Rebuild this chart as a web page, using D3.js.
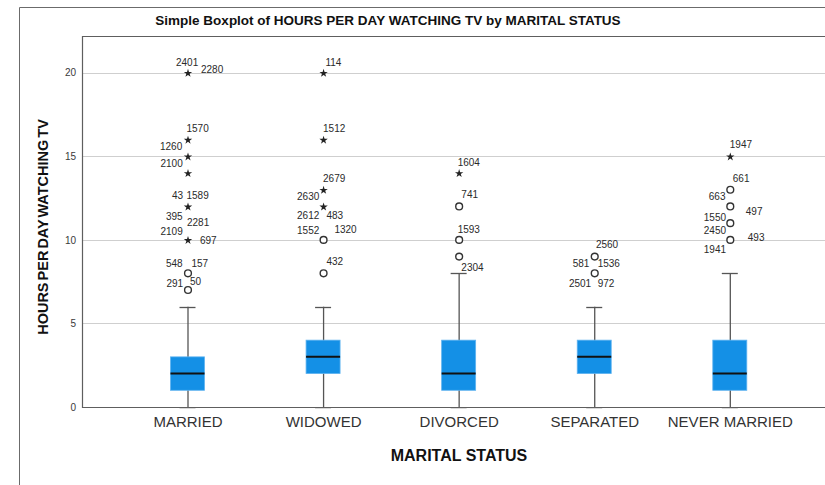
<!DOCTYPE html>
<html>
<head>
<meta charset="utf-8">
<script src="https://cdn.jsdelivr.net/npm/d3@7"></script>
<style>
  body { margin: 0; background: #fff; }
  svg text { font-family: Arial, "Liberation Sans", sans-serif; }
</style>
</head>
<body>
<script>
// chart data
var categories = ["MARRIED", "WIDOWED", "DIVORCED", "SEPARATED", "NEVER MARRIED"];
var q1 = [1, 2, 1, 2, 1];
var medians = [2, 3, 2, 3, 2];
var q3 = [3, 4, 4, 4, 4];
var whiskerLow = [0, 0, 0, 0, 0];
var whiskerHigh = [6, 6, 8, 6, 8];
var yTicks = [0, 5, 10, 15, 20];

// outliers: [category, value, kind]  (o = outlier, x = extreme)
var outliers = [
  ["MARRIED", 7, "o"], ["MARRIED", 8, "o"], ["MARRIED", 10, "x"], ["MARRIED", 12, "x"],
  ["MARRIED", 14, "x"], ["MARRIED", 15, "x"], ["MARRIED", 16, "x"], ["MARRIED", 20, "x"],
  ["WIDOWED", 8, "o"], ["WIDOWED", 10, "o"], ["WIDOWED", 12, "x"], ["WIDOWED", 13, "x"],
  ["WIDOWED", 16, "x"], ["WIDOWED", 20, "x"],
  ["DIVORCED", 9, "o"], ["DIVORCED", 10, "o"], ["DIVORCED", 12, "o"], ["DIVORCED", 14, "x"],
  ["SEPARATED", 8, "o"], ["SEPARATED", 9, "o"],
  ["NEVER MARRIED", 10, "o"], ["NEVER MARRIED", 11, "o"], ["NEVER MARRIED", 12, "o"],
  ["NEVER MARRIED", 13, "o"], ["NEVER MARRIED", 15, "x"]
];

// case id labels: [category, value of the point they sit by, case id]
var caseLabels = [
  ["MARRIED", 20, "2401"], ["MARRIED", 20, "2280"], ["MARRIED", 16, "1570"], ["MARRIED", 16, "1260"],
  ["MARRIED", 15, "2100"], ["MARRIED", 12, "43"], ["MARRIED", 12, "1589"], ["MARRIED", 12, "395"],
  ["MARRIED", 10, "2281"], ["MARRIED", 10, "2109"], ["MARRIED", 10, "697"], ["MARRIED", 8, "548"],
  ["MARRIED", 8, "157"], ["MARRIED", 7, "291"], ["MARRIED", 7, "50"],
  ["WIDOWED", 20, "114"], ["WIDOWED", 16, "1512"], ["WIDOWED", 13, "2679"], ["WIDOWED", 12, "2630"],
  ["WIDOWED", 12, "2612"], ["WIDOWED", 12, "483"], ["WIDOWED", 10, "1552"], ["WIDOWED", 10, "1320"],
  ["WIDOWED", 8, "432"],
  ["DIVORCED", 14, "1604"], ["DIVORCED", 12, "741"], ["DIVORCED", 10, "1593"], ["DIVORCED", 9, "2304"],
  ["SEPARATED", 9, "2560"], ["SEPARATED", 8, "581"], ["SEPARATED", 8, "1536"], ["SEPARATED", 8, "2501"],
  ["SEPARATED", 8, "972"],
  ["NEVER MARRIED", 15, "1947"], ["NEVER MARRIED", 13, "661"], ["NEVER MARRIED", 13, "663"],
  ["NEVER MARRIED", 12, "497"], ["NEVER MARRIED", 11, "1550"], ["NEVER MARRIED", 11, "2450"],
  ["NEVER MARRIED", 10, "493"], ["NEVER MARRIED", 10, "1941"]
];

// label nudges in px (left edge, vertical centre) - same order as caseLabels
var labelNudge = [
  [-11.5, -10.5], [13.5, -3], [-1, -11], [-27.5, 7],
  [-27, 7.5], [-15.5, -10.5], [-1, -10.5], [-21.5, 10],
  [-0.5, -17], [-27, -8.5], [12.5, 0.5], [-21.5, -9.5],
  [4, -9.5], [-21, -7], [2.5, -9],
  [2.3, -10.5], [0, -11.5], [0, -11.5], [-26, -10],
  [-26, 9.5], [3.3, 9.5], [-26, -9], [11.3, -10.7],
  [3.3, -11.7],
  [-1, -10.5], [2.7, -11.6], [-1, -10.7], [2.7, 11],
  [1.7, -11.7], [-21.6, -10], [3.4, -10], [-25.3, 10],
  [3.4, 10],
  [0, -11.5], [3, -11.6], [-21, 6.8],
  [16, 5], [-26, -5.6], [-26, 7.4],
  [18, -2.7], [-26, 9.3]
];

var svgWidth = 825;
var svgHeight = 485;

var plot = { left: 82, top: 36, bottom: 407, right: 825 };

var svg = d3.select("body")
  .append("svg")
  .attr("width", svgWidth)
  .attr("height", svgHeight);

// outer chart frame (left + top edges only show)
svg.append("path")
  .attr("d", "M19.5," + svgHeight + "V7.5H" + svgWidth)
  .attr("fill", "none")
  .attr("stroke", "#6b6b6b")
  .attr("stroke-width", 1);

var yScale = d3.scaleLinear()
  .domain([0, 22.2])
  .range([plot.bottom, plot.top]);

var xScale = d3.scalePoint()
  .domain(categories)
  .range([187.5, 729.8]);

// gridlines
svg.append("g")
  .selectAll("line")
  .data(yTicks.filter(d => d > 0))
  .enter()
  .append("line")
  .attr("x1", plot.left)
  .attr("x2", plot.right)
  .attr("y1", d => Math.round(yScale(d)) + 0.5)
  .attr("y2", d => Math.round(yScale(d)) + 0.5)
  .attr("stroke", "#cfcfcf")
  .attr("stroke-width", 1);

// y axis: labels only, no tick marks
var leftAxis = d3.axisLeft(yScale)
  .tickValues(yTicks)
  .tickSize(0)
  .tickPadding(6);

var yAxis = svg.append("g")
  .attr("transform", `translate(${plot.left}, 0)`)
  .call(leftAxis);
yAxis.select(".domain").remove();
yAxis.selectAll("text")
  .attr("font-size", 10)
  .attr("fill", "#3a3a3a")
  .style("font-family", "Arial, 'Liberation Sans', sans-serif");

// plot frame: left, top and bottom
svg.append("path")
  .attr("d", `M${svgWidth},${plot.top + 0.5}H${plot.left + 0.5}V${plot.bottom + 0.5}H${svgWidth}`)
  .attr("fill", "none")
  .attr("stroke", "#5e5e5e")
  .attr("stroke-width", 1.2);

// x axis category labels
var bottomAxis = d3.axisBottom(xScale).tickSize(0).tickPadding(9);
var xAxis = svg.append("g")
  .attr("transform", `translate(0, ${plot.bottom})`)
  .call(bottomAxis);
xAxis.select(".domain").remove();
xAxis.selectAll("text")
  .attr("font-size", 15)
  .attr("fill", "#333")
  .style("font-family", "Arial, 'Liberation Sans', sans-serif");

// boxes
var boxWidth = 34;
var capWidth = 16;

var boxes = svg.append("g")
  .selectAll("g")
  .data(categories)
  .enter()
  .append("g");

// whiskers
boxes.append("line")
  .attr("x1", d => xScale(d) + 0.5)
  .attr("x2", d => xScale(d) + 0.5)
  .attr("y1", (d, i) => yScale(whiskerLow[i]))
  .attr("y2", (d, i) => yScale(whiskerHigh[i]))
  .attr("stroke", "#555")
  .attr("stroke-width", 1.3);

boxes.append("line")
  .attr("x1", d => xScale(d) - capWidth / 2)
  .attr("x2", d => xScale(d) + capWidth / 2)
  .attr("y1", (d, i) => Math.round(yScale(whiskerHigh[i])) + 0.5)
  .attr("y2", (d, i) => Math.round(yScale(whiskerHigh[i])) + 0.5)
  .attr("stroke", "#555")
  .attr("stroke-width", 1.3);

boxes.append("line")
  .attr("x1", d => xScale(d) - capWidth / 2)
  .attr("x2", d => xScale(d) + capWidth / 2)
  .attr("y1", (d, i) => yScale(whiskerLow[i]) + 1.5)
  .attr("y2", (d, i) => yScale(whiskerLow[i]) + 1.5)
  .attr("stroke", "#d9d9d9")
  .attr("stroke-width", 1);

boxes.append("rect")
  .attr("x", d => xScale(d) - boxWidth / 2)
  .attr("y", (d, i) => yScale(q3[i]))
  .attr("width", boxWidth)
  .attr("height", (d, i) => yScale(q1[i]) - yScale(q3[i]))
  .attr("fill", "#1490e6")
  .attr("stroke", "#5fb3f0")
  .attr("stroke-width", 0.8);

boxes.append("line")
  .attr("x1", d => xScale(d) - boxWidth / 2)
  .attr("x2", d => xScale(d) + boxWidth / 2)
  .attr("y1", (d, i) => yScale(medians[i]))
  .attr("y2", (d, i) => yScale(medians[i]))
  .attr("stroke", "#111")
  .attr("stroke-width", 2);

// outliers (circles) and extremes (stars)
var star = d3.symbol().type(d3.symbolStar).size(22);

svg.append("g")
  .selectAll("circle")
  .data(outliers.filter(d => d[2] === "o"))
  .enter()
  .append("circle")
  .attr("cx", d => xScale(d[0]) + 0.5)
  .attr("cy", d => yScale(d[1]))
  .attr("r", 3.4)
  .attr("fill", "#fff")
  .attr("stroke", "#333")
  .attr("stroke-width", 1.4);

svg.append("g")
  .selectAll("path")
  .data(outliers.filter(d => d[2] === "x"))
  .enter()
  .append("path")
  .attr("d", star)
  .attr("transform", d => `translate(${xScale(d[0]) + 0.5}, ${yScale(d[1]) + 0.5})`)
  .attr("fill", "#222");

// case id labels
svg.append("g")
  .selectAll("text")
  .data(caseLabels)
  .enter()
  .append("text")
  .attr("x", (d, i) => xScale(d[0]) + labelNudge[i][0])
  .attr("y", (d, i) => yScale(d[1]) + labelNudge[i][1])
  .attr("dy", "0.35em")
  .attr("font-size", 10)
  .attr("fill", "#2a2a2a")
  .text(d => d[2]);

// titles
svg.append("text")
  .attr("x", 388)
  .attr("y", 20)
  .attr("dy", "0.35em")
  .attr("text-anchor", "middle")
  .attr("font-size", 13.5)
  .attr("font-weight", "bold")
  .attr("fill", "#111")
  .text("Simple Boxplot of HOURS PER DAY WATCHING TV by MARITAL STATUS");

svg.append("text")
  .attr("transform", "translate(43, 227) rotate(-90)")
  .attr("dy", "0.35em")
  .attr("text-anchor", "middle")
  .attr("font-size", 14.5)
  .attr("font-weight", "bold")
  .attr("word-spacing", -2)
  .attr("fill", "#111")
  .text("HOURS PER DAY WATCHING TV");

svg.append("text")
  .attr("x", 459)
  .attr("y", 455)
  .attr("dy", "0.35em")
  .attr("text-anchor", "middle")
  .attr("font-size", 16)
  .attr("font-weight", "bold")
  .attr("fill", "#111")
  .text("MARITAL STATUS");
</script>
</body>
</html>
